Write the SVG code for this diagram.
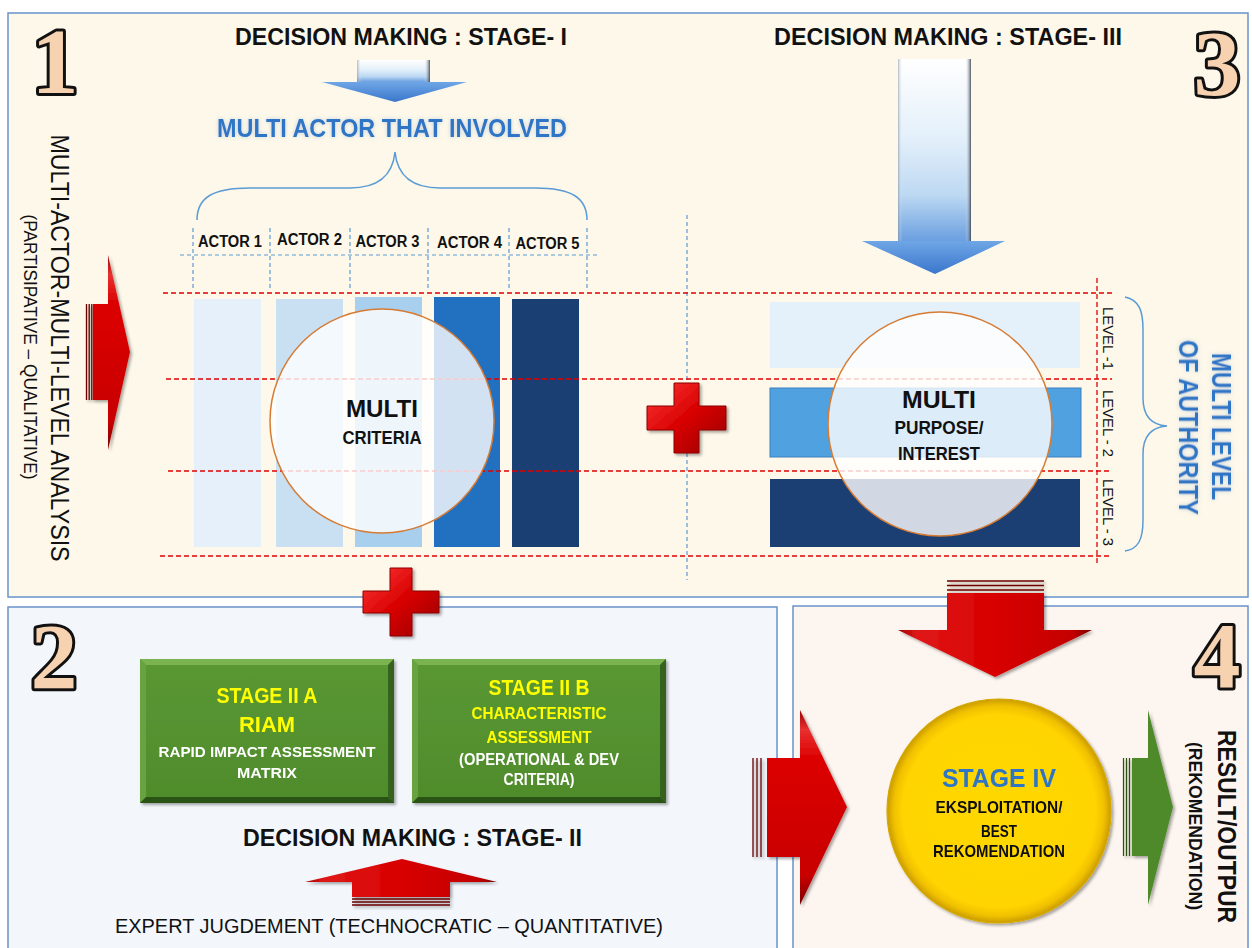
<svg xmlns="http://www.w3.org/2000/svg" width="1252" height="948" viewBox="0 0 1252 948">
<style>
.f{font-family:'Liberation Sans',Arial,sans-serif}
.b{font-weight:bold}
.h{font-family:'Liberation Sans',Arial,sans-serif;font-weight:bold;font-size:24px;fill:#111;text-anchor:middle}
.act{font-family:'Liberation Sans',Arial,sans-serif;font-weight:bold;font-size:16px;fill:#111;text-anchor:middle}
.num{font-family:'Liberation Serif','Times New Roman',serif;font-weight:bold;font-size:94px;fill:#f7d2b0;stroke:#111;stroke-width:6;paint-order:stroke;stroke-linejoin:round;text-anchor:middle}
.panel{stroke:#6a93c9;stroke-width:1.5}
.bd{fill:none;stroke:#5b9bd5;stroke-width:1.2;stroke-dasharray:4 3}
.rd{fill:none;stroke:#e00000;stroke-width:1.3;stroke-dasharray:5 3}
.ov{fill:#ffffff;fill-opacity:0.8;stroke:#d77b33;stroke-width:1.5}
.ct{font-family:'Liberation Sans',Arial,sans-serif;font-weight:bold;fill:#111;text-anchor:middle}
.yl{font-family:'Liberation Sans',Arial,sans-serif;font-weight:bold;fill:#ffff00;text-anchor:middle}
.wt{font-family:'Liberation Sans',Arial,sans-serif;font-weight:bold;fill:#ffffff;text-anchor:middle}
.blue{fill:#2e75c6}
.stripe{stroke:#6a0000;stroke-width:1.3}
</style>
<defs>
<linearGradient id="redH" x1="0" y1="0" x2="0" y2="1">
<stop offset="0" stop-color="#a00000"/><stop offset="0.1" stop-color="#e83030"/><stop offset="0.25" stop-color="#dc0000"/><stop offset="0.85" stop-color="#c80000"/><stop offset="1" stop-color="#7a0000"/>
</linearGradient>
<linearGradient id="redV" x1="0" y1="0" x2="1" y2="0">
<stop offset="0" stop-color="#a00000"/><stop offset="0.1" stop-color="#e01818"/><stop offset="0.5" stop-color="#d80000"/><stop offset="0.9" stop-color="#c40000"/><stop offset="1" stop-color="#7a0000"/>
</linearGradient>
<linearGradient id="plusG" x1="0" y1="0" x2="1" y2="1">
<stop offset="0" stop-color="#ff3a3a"/><stop offset="0.5" stop-color="#d80000"/><stop offset="1" stop-color="#960000"/>
</linearGradient>
<linearGradient id="blueBody" x1="0" y1="0" x2="0" y2="1">
<stop offset="0" stop-color="#ffffff"/><stop offset="0.45" stop-color="#e2effa"/><stop offset="0.75" stop-color="#bcd8f2"/><stop offset="1" stop-color="#6a9fe0"/>
</linearGradient>
<linearGradient id="blueHead" x1="0" y1="0" x2="0" y2="1">
<stop offset="0" stop-color="#6fa6e6"/><stop offset="1" stop-color="#3a76cc"/>
</linearGradient>
<linearGradient id="sideShade" x1="0" y1="0" x2="1" y2="0">
<stop offset="0" stop-color="#8090a0" stop-opacity="0.6"/><stop offset="0.06" stop-color="#ffffff" stop-opacity="0"/><stop offset="0.92" stop-color="#ffffff" stop-opacity="0"/><stop offset="1" stop-color="#303a48" stop-opacity="0.85"/>
</linearGradient>
<linearGradient id="greenBox" x1="0" y1="0" x2="0" y2="1">
<stop offset="0" stop-color="#5a9834"/><stop offset="1" stop-color="#4f8b2b"/>
</linearGradient>
<radialGradient id="yel" cx="0.5" cy="0.5" r="0.5">
<stop offset="0" stop-color="#ffd800"/><stop offset="0.86" stop-color="#ffd400"/><stop offset="0.94" stop-color="#f0c000"/><stop offset="1" stop-color="#c99c00"/>
</radialGradient>
<filter id="sh" x="-10%" y="-10%" width="130%" height="130%">
<feDropShadow dx="2" dy="2" stdDeviation="1.5" flood-color="#000" flood-opacity="0.35"/>
</filter>
<filter id="glow" x="-10%" y="-30%" width="120%" height="160%">
<feGaussianBlur in="SourceAlpha" stdDeviation="2" result="b"/>
<feFlood flood-color="#9fb8d8" flood-opacity="0.6"/>
<feComposite in2="b" operator="in" result="g"/>
<feMerge><feMergeNode in="g"/><feMergeNode in="SourceGraphic"/></feMerge>
</filter>
</defs>

<!-- panels -->
<g id="panel1"><rect class="panel" x="8" y="13" width="1240" height="584" fill="#fdf8e9"/></g>
<g id="panel2"><rect class="panel" x="8" y="607" width="769" height="360" fill="#f3f7fc"/></g>
<g id="panel4"><rect class="panel" x="793" y="606" width="455" height="360" fill="#fdf5f0"/></g>

<!-- numbers -->
<g id="num1"><text class="num" x="55" y="93">1</text></g>
<g id="num2"><text class="num" x="54" y="688">2</text></g>
<g id="num3"><text class="num" x="1217" y="95">3</text></g>
<g id="num4"><text class="num" x="1217" y="687">4</text></g>

<!-- headers -->
<g id="stage1-title"><text class="h" x="401" y="45" textLength="332" lengthAdjust="spacingAndGlyphs">DECISION MAKING : STAGE- I</text></g>
<g id="stage3-title"><text class="h" x="948" y="45" textLength="348" lengthAdjust="spacingAndGlyphs">DECISION MAKING : STAGE- III</text></g>
<g id="multi-actor"><text class="f b blue" x="392" y="137" font-size="25" text-anchor="middle" textLength="350" lengthAdjust="spacingAndGlyphs" filter="url(#glow)">MULTI ACTOR THAT INVOLVED</text></g>

<!-- left vertical labels -->
<g id="left-label">
<text class="f" font-size="26" fill="#111" text-anchor="middle" transform="translate(60,348) rotate(90)" y="9" textLength="427" lengthAdjust="spacingAndGlyphs">MULTI-ACTOR-MULTI-LEVEL ANALYSIS</text>
<text class="f" font-size="18" fill="#111" text-anchor="middle" transform="translate(30,347) rotate(90)" y="6.5" textLength="265" lengthAdjust="spacingAndGlyphs">(PARTISIPATIVE – QUALITATIVE)</text>
</g>

<!-- guides -->
<g id="guides">
<path class="bd" d="M180,255 H598"/>
<path class="bd" d="M193,228 V290 M270,228 V290 M350,228 V290 M428,228 V290 M509,228 V290 M587,228 V290"/>
<path class="bd" d="M687,215 V580"/>
</g>

<!-- brace top -->
<g id="brace-actors"><path d="M197,220 C197,198 212,188 250,188 L350,188 C382,188 393,172 395,152 C397,172 408,188 440,188 L535,188 C572,188 587,198 587,220" fill="none" stroke="#5b9bd5" stroke-width="1.5"/></g>

<!-- actor labels -->
<g id="actors">
<text class="act" x="230" y="247" textLength="64" lengthAdjust="spacingAndGlyphs">ACTOR 1</text>
<text class="act" x="309.5" y="245" textLength="65" lengthAdjust="spacingAndGlyphs">ACTOR 2</text>
<text class="act" x="387.5" y="247" textLength="64" lengthAdjust="spacingAndGlyphs">ACTOR 3</text>
<text class="act" x="469.5" y="248" textLength="65" lengthAdjust="spacingAndGlyphs">ACTOR 4</text>
<text class="act" x="547.5" y="249" textLength="64" lengthAdjust="spacingAndGlyphs">ACTOR 5</text>
</g>

<!-- actor bars -->
<g id="actor-bars">
<rect x="194" y="299" width="67" height="248" fill="#e5f0fa"/>
<rect x="276" y="299" width="67" height="248" fill="#c9e0f3"/>
<rect x="355" y="297" width="67" height="250" fill="#a9cfee"/>
<rect x="434" y="297" width="66" height="250" fill="#2270c0"/>
<rect x="512" y="299" width="67" height="248" fill="#1a3f73"/>
</g>

<!-- level bars -->
<g id="level-bars">
<rect x="770" y="302" width="310" height="66" fill="#e4f0fa"/>
<rect x="770" y="388" width="311" height="69" fill="#4fa2df" stroke="#3d7fc0" stroke-width="1"/>
<rect x="770" y="479" width="310" height="68" fill="#1b3f73"/>
</g>

<!-- red dashed lines -->
<g id="red-guides">
<path class="rd" d="M163,293 H1112 M166,379 H1112 M168,471 H1112 M160,556 H1112"/>
<path class="rd" d="M1097,278 V563"/>
</g>

<!-- circles -->
<g id="multi-criteria">
<circle class="ov" cx="382" cy="421" r="112"/>
<text class="ct" x="382" y="417" font-size="24" textLength="72" lengthAdjust="spacingAndGlyphs">MULTI</text>
<text class="ct" x="382" y="444" font-size="18" textLength="79" lengthAdjust="spacingAndGlyphs">CRITERIA</text>
</g>
<g id="multi-purpose">
<circle class="ov" cx="940" cy="424" r="112"/>
<text class="ct" x="939" y="408" font-size="24" textLength="74" lengthAdjust="spacingAndGlyphs">MULTI</text>
<text class="ct" x="939" y="434" font-size="18" textLength="89" lengthAdjust="spacingAndGlyphs">PURPOSE/</text>
<text class="ct" x="939" y="460" font-size="18" textLength="82" lengthAdjust="spacingAndGlyphs">INTEREST</text>
</g>

<!-- level labels -->
<g id="levels">
<text class="f" font-size="14" fill="#111" text-anchor="middle" transform="translate(1108,338.5) rotate(90)" y="5" textLength="63" lengthAdjust="spacingAndGlyphs">LEVEL -1</text>
<text class="f" font-size="14" fill="#111" text-anchor="middle" transform="translate(1108,423.5) rotate(90)" y="5" textLength="67" lengthAdjust="spacingAndGlyphs">LEVEL - 2</text>
<text class="f" font-size="14" fill="#111" text-anchor="middle" transform="translate(1108,512.5) rotate(90)" y="5" textLength="67" lengthAdjust="spacingAndGlyphs">LEVEL - 3</text>
</g>

<!-- right brace and label -->
<g id="authority">
<path d="M1125,297 C1140,300 1143,312 1143,330 L1143,398 C1143,416 1152,425 1167,426 C1152,427 1143,436 1143,454 L1143,520 C1143,540 1138,549 1125,551" fill="none" stroke="#5b9bd5" stroke-width="1.5"/>
<text class="f b blue" font-size="27" text-anchor="middle" transform="translate(1222,426.5) rotate(90)" y="9.5" textLength="147" lengthAdjust="spacingAndGlyphs" filter="url(#glow)">MULTI LEVEL</text>
<text class="f b blue" font-size="27" text-anchor="middle" transform="translate(1189,427.5) rotate(90)" y="9.5" textLength="175" lengthAdjust="spacingAndGlyphs" filter="url(#glow)">OF AUTHORITY</text>
</g>

<!-- plus signs -->
<g id="plus-right" filter="url(#sh)"><path d="M674,383 H699 V406 H726 V430 H699 V453 H674 V430 H647 V406 H674 Z" fill="url(#plusG)" stroke="#8a0000" stroke-width="1"/></g>
<g id="plus-bottom" filter="url(#sh)"><path d="M390,568 H412 V591 H439 V613 H412 V636 H390 V613 H363 V591 H390 Z" fill="url(#plusG)" stroke="#8a0000" stroke-width="1"/></g>

<!-- green boxes -->
<g id="stage2a" filter="url(#sh)">
<rect x="140" y="659" width="254" height="144" fill="url(#greenBox)"/>
<polygon points="140,659 394,659 388,665 146,665" fill="#7ab350"/>
<polygon points="140,659 146,665 146,797 140,803" fill="#68a242"/>
<polygon points="394,659 394,803 388,797 388,665" fill="#34621b"/>
<polygon points="140,803 394,803 388,797 146,797" fill="#2a5214"/>
<text class="yl" x="267" y="703" font-size="22" textLength="101" lengthAdjust="spacingAndGlyphs">STAGE II A</text>
<text class="yl" x="267" y="732" font-size="22" textLength="56" lengthAdjust="spacingAndGlyphs">RIAM</text>
<text class="wt" x="267" y="757" font-size="15.5" textLength="217" lengthAdjust="spacingAndGlyphs">RAPID IMPACT ASSESSMENT</text>
<text class="wt" x="267" y="778" font-size="15.5" textLength="60" lengthAdjust="spacingAndGlyphs">MATRIX</text>
</g>
<g id="stage2b" filter="url(#sh)">
<rect x="412" y="659" width="254" height="144" fill="url(#greenBox)"/>
<polygon points="412,659 666,659 660,665 418,665" fill="#7ab350"/>
<polygon points="412,659 418,665 418,797 412,803" fill="#68a242"/>
<polygon points="666,659 666,803 660,797 660,665" fill="#34621b"/>
<polygon points="412,803 666,803 660,797 418,797" fill="#2a5214"/>
<text class="yl" x="539" y="695" font-size="22" textLength="101" lengthAdjust="spacingAndGlyphs">STAGE II B</text>
<text class="yl" x="539" y="719" font-size="16" textLength="135" lengthAdjust="spacingAndGlyphs">CHARACTERISTIC</text>
<text class="yl" x="539" y="743" font-size="16" textLength="105" lengthAdjust="spacingAndGlyphs">ASSESSMENT</text>
<text class="wt" x="539" y="765" font-size="16" textLength="160" lengthAdjust="spacingAndGlyphs">(OPERATIONAL &amp; DEV</text>
<text class="wt" x="539" y="785" font-size="16" textLength="71" lengthAdjust="spacingAndGlyphs">CRITERIA)</text>
</g>

<g id="stage2-title"><text class="h" x="412.5" y="846" textLength="339" lengthAdjust="spacingAndGlyphs">DECISION MAKING : STAGE- II</text></g>
<g id="expert"><text class="f" x="389" y="933" font-size="21" fill="#111" text-anchor="middle" textLength="548" lengthAdjust="spacingAndGlyphs">EXPERT JUGDEMENT (TECHNOCRATIC – QUANTITATIVE)</text></g>

<!-- stage IV -->
<g id="stage4" filter="url(#sh)">
<circle cx="999" cy="811" r="112" fill="url(#yel)" stroke="#d6a800" stroke-width="1.2"/>
<text class="f b blue" x="999" y="787" font-size="26" text-anchor="middle" textLength="114" lengthAdjust="spacingAndGlyphs">STAGE IV</text>
<text class="ct" x="999" y="813" font-size="17" textLength="127" lengthAdjust="spacingAndGlyphs">EKSPLOITATION/</text>
<text class="ct" x="999" y="837" font-size="17" textLength="36" lengthAdjust="spacingAndGlyphs">BEST</text>
<text class="ct" x="999" y="857" font-size="17" textLength="132" lengthAdjust="spacingAndGlyphs">REKOMENDATION</text>
</g>

<g id="result">
<text class="f b" font-size="26" fill="#111" text-anchor="middle" transform="translate(1227,826.5) rotate(90)" y="9.3" textLength="193" lengthAdjust="spacingAndGlyphs">RESULT/OUTPUR</text>
<text class="f b" font-size="19" fill="#111" text-anchor="middle" transform="translate(1196,826) rotate(90)" y="6.8" textLength="168" lengthAdjust="spacingAndGlyphs">(REKOMENDATION)</text>
</g>

<!-- connectors / arrows -->
<g id="connectors">
<g id="arrow-stage1">
<rect x="357" y="60" width="73" height="22" fill="url(#blueBody)"/>
<rect x="357" y="60" width="73" height="22" fill="url(#sideShade)"/>
<polygon points="322,82 467,82 395,102" fill="url(#blueHead)"/>
</g>
<g id="arrow-stage3">
<rect x="898" y="59" width="73" height="182" fill="url(#blueBody)"/>
<rect x="898" y="59" width="73" height="182" fill="url(#sideShade)"/>
<polygon points="862,241 1005,241 935,274" fill="url(#blueHead)"/>
</g>
<g id="arrow-left" filter="url(#sh)">
<polygon points="93,304 108,304 108,255 130,352 108,450 108,400 93,400" fill="url(#redH)"/>
<path class="stripe" d="M86.5,304 V400 M89.2,304 V400 M91.8,304 V400"/>
</g>
<g id="arrow-down" filter="url(#sh)">
<polygon points="947,593 1044,593 1044,630 1092,630 995,677 898,630 947,630" fill="url(#redV)"/>
<path class="stripe" d="M947,581 H1044 M947,585.5 H1044 M947,590 H1044"/>
</g>
<g id="arrow-right" filter="url(#sh)">
<polygon points="767,758 800,758 800,710 847,807 800,905 800,857 767,857" fill="url(#redH)"/>
<path class="stripe" d="M753,758 V857 M757,758 V857 M761,758 V857"/>
</g>
<g id="arrow-up" filter="url(#sh)">
<polygon points="352,897 352,882 305,882 402,859 497,882 450,882 450,897" fill="url(#redV)"/>
<path class="stripe" d="M352,899 H450 M352,902 H450 M352,905 H450"/>
</g>
<g id="arrow-result" filter="url(#sh)">
<polygon points="1132,758 1148,758 1148,710 1173,807 1148,905 1148,856 1132,856" fill="#4f8a2c"/>
<path d="M1123.5,758 V856 M1126.5,758 V856 M1129.5,758 V856" stroke="#2a5214" stroke-width="1.2"/>
</g>
</g>
</svg>
